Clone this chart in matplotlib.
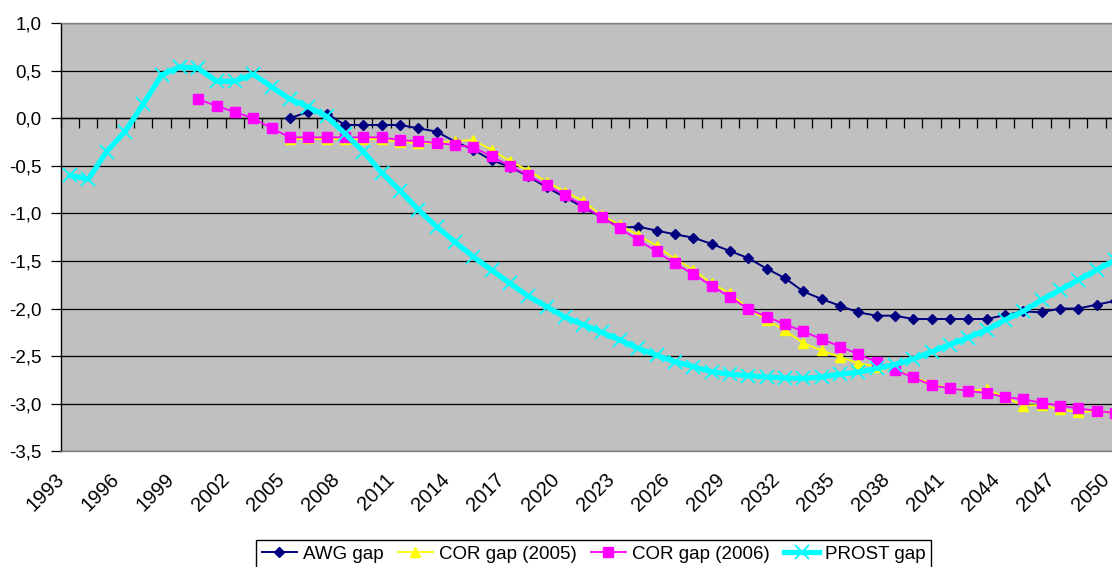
import numpy as np
import matplotlib
matplotlib.use("Agg")
import matplotlib.pyplot as plt
from matplotlib.transforms import ScaledTranslation

plt.rcParams['font.family'] = ['Liberation Sans', 'DejaVu Sans']

years = list(range(1993, 2051))

prost_gap = [-0.60, -0.64, -0.35, -0.14, 0.15, 0.455, 0.54, 0.525, 0.39, 0.39,
             0.465, 0.33, 0.20, 0.12, 0.02, -0.16, -0.35, -0.57, -0.76, -0.96,
             -1.14, -1.30, -1.455, -1.595, -1.735, -1.87, -1.98, -2.09, -2.17, -2.25,
             -2.33, -2.42, -2.49, -2.56, -2.61, -2.665, -2.69, -2.705, -2.72, -2.73,
             -2.735, -2.72, -2.69, -2.67, -2.63, -2.59, -2.53, -2.455, -2.38, -2.305,
             -2.225, -2.12, -2.03, -1.91, -1.805, -1.70, -1.595, -1.49]

awg_start = 2005
awg_gap = [0.0, 0.07, 0.05, -0.07, -0.07, -0.07, -0.07, -0.105, -0.14, -0.245,
           -0.33, -0.44, -0.51, -0.61, -0.725, -0.83, -0.935, -1.04, -1.15, -1.14,
           -1.18, -1.22, -1.255, -1.32, -1.395, -1.47, -1.58, -1.68, -1.82, -1.90,
           -1.97, -2.04, -2.075, -2.075, -2.11, -2.11, -2.11, -2.11, -2.11, -2.07,
           -2.03, -2.04, -2.0, -2.0, -1.96, -1.92]

cor2005_start = 2005
cor2005_gap = [-0.22, -0.21, -0.22, -0.22, -0.22, -0.22, -0.25, -0.26, -0.26, -0.235,
               -0.23, -0.33, -0.45, -0.55, -0.665, -0.77, -0.87, -1.02, -1.12, -1.23,
               -1.34, -1.48, -1.59, -1.735, -1.84, -2.0, -2.12, -2.23, -2.365, -2.44,
               -2.51, -2.575, -2.61, -2.64, -2.72, -2.79, -2.84, -2.865, -2.85, -2.93,
               -3.02, -3.015, -3.06, -3.09, -3.08, -3.10]

cor2006_start = 2000
cor2006_gap = [0.20, 0.13, 0.065, 0.0, -0.105, -0.20, -0.20, -0.20, -0.20, -0.20,
               -0.20, -0.23, -0.24, -0.26, -0.28, -0.305, -0.40, -0.50, -0.60, -0.705,
               -0.805, -0.92, -1.04, -1.157, -1.28, -1.40, -1.525, -1.64, -1.76, -1.88,
               -2.005, -2.085, -2.165, -2.24, -2.32, -2.40, -2.48, -2.56, -2.645, -2.725,
               -2.805, -2.84, -2.865, -2.89, -2.93, -2.955, -2.99, -3.02, -3.05, -3.075,
               -3.10]

y_ticks = [1.0, 0.5, 0.0, -0.5, -1.0, -1.5, -2.0, -2.5, -3.0, -3.5]
y_labels = ["1,0", "0,5", "0,0", "-0,5", "-1,0", "-1,5", "-2,0", "-2,5", "-3,0", "-3,5"]
label_years = years[::3]


def positions(start, values):
    i0 = years.index(start)
    return np.arange(i0, i0 + len(values))


W, H = 1112, 567
DPI = 100
fig = plt.figure(figsize=(W / DPI, H / DPI), dpi=DPI)
fig.patch.set_facecolor('white')

# plot area runs slightly past the right edge of the canvas
left_px, right_px, top_px, bottom_px = 60.8, 1124.0, 23.2, 451.2
ax = fig.add_axes([left_px / W, 1 - bottom_px / H,
                   (right_px - left_px) / W, (bottom_px - top_px) / H])
ax.set_facecolor('#C0C0C0')

n = len(years)
ax.set_xlim(-0.5, n - 0.5)
ax.set_ylim(-3.5, 1.0)

ax.set_yticks(y_ticks)
ax.set_yticklabels(y_labels, fontsize=13.5)
ax.yaxis.grid(True, color='black', lw=0.9)
ax.set_axisbelow(True)
ax.tick_params(axis='y', direction='out', length=7, width=0.9, color='black', pad=7)

lab_idx = [years.index(y) for y in label_years]
ax.set_xticks(lab_idx)
ax.set_xticklabels([str(y) for y in label_years], rotation=45, ha='right',
                   va='top', rotation_mode='anchor', fontsize=14.5)
ax.tick_params(axis='x', length=0, pad=9)
shift = ScaledTranslation(-15 / DPI, -6 / DPI, fig.dpi_scale_trans)
for lbl in ax.get_xticklabels():
    lbl.set_transform(lbl.get_transform() + shift)

for s in ['top', 'right', 'bottom']:
    ax.spines[s].set_color('#808080')
    ax.spines[s].set_linewidth(1.0)
ax.spines['left'].set_color('black')
ax.spines['left'].set_linewidth(1.0)

# category axis crossing at zero, with tick marks between categories
y0 = (0 - (-3.5)) / (1.0 - (-3.5))
cat_axis = ax.secondary_xaxis(y0)
cat_axis.set_xticks(np.arange(n + 1) - 0.5)
cat_axis.set_xticklabels([])
cat_axis.tick_params(axis='x', direction='in', length=7, width=0.9, color='black')
for sp in cat_axis.spines.values():
    sp.set_color('black')
    sp.set_linewidth(1.0)

ax.plot(positions(awg_start, awg_gap), awg_gap, color='#000080', lw=1.4,
        marker='D', ms=5, mfc='#000080', mec='#000080', label='AWG gap', zorder=3)
ax.plot(positions(cor2005_start, cor2005_gap), cor2005_gap, color='#FFFF00', lw=1.3,
        marker='^', ms=6.5, mfc='#FFFF00', mec='#FFFF00', label='COR gap (2005)', zorder=4)
ax.plot(positions(cor2006_start, cor2006_gap), cor2006_gap, color='#FF00FF', lw=1.3,
        marker='s', ms=6.5, mfc='#FF00FF', mec='#FF00FF', label='COR gap (2006)', zorder=5)
ax.plot(np.arange(n), prost_gap, color='#00FFFF', lw=3.8,
        marker='x', ms=10, mew=1.3, mec='#00FFFF', label='PROST gap', zorder=6)

leg = fig.legend(loc='upper left', bbox_to_anchor=(256 / W, 1 - 540 / H), ncol=4,
                 frameon=True, fancybox=False, framealpha=1, edgecolor='black',
                 fontsize=13.5, handlelength=1.9, handletextpad=0.3,
                 columnspacing=0.75, borderpad=0.3, borderaxespad=0)
leg.get_frame().set_linewidth(1.0)

fig.savefig('out.png', dpi=DPI, facecolor='white')
